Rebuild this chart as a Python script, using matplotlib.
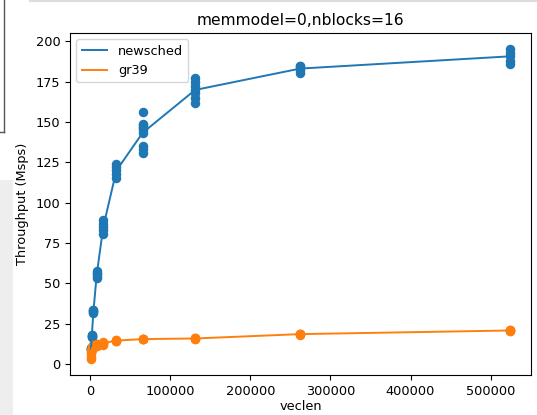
import matplotlib
matplotlib.use("Agg")
import matplotlib.pyplot as plt
from matplotlib.patches import Rectangle
from matplotlib.lines import Line2D
import numpy as np

# veclen values and repeated throughput measurements (Msps)
veclen = [1024, 2048, 4096, 8192, 16384, 32768, 65536, 131072, 262144, 524288]

newsched_trials = [
    [8.5, 9.0, 9.3, 9.6, 10.0],
    [16.5, 17.0, 17.5, 18.0, 18.2],
    [31.8, 32.3, 32.8, 33.2, 33.5],
    [53.0, 54.5, 55.5, 56.5, 57.5],
    [80.5, 83.0, 85.0, 87.0, 89.5],
    [115.5, 118.0, 120.0, 122.0, 124.0],
    [131, 133, 135, 143, 145, 146, 147, 148, 149, 156],
    [162, 165, 168, 170, 172, 175, 177],
    [180.5, 182, 183.5, 184.5, 185],
    [186, 188, 191, 193, 195.5],
]

gr39_trials = [
    [2.8, 4.5, 6.0, 7.5, 8.8],
    [8.5, 9.2, 9.8, 10.2, 10.5],
    [10.0, 10.5, 11.0, 11.3, 11.6],
    [11.0, 11.5, 12.0, 12.3, 12.6],
    [12.0, 12.5, 13.0, 13.3, 13.6],
    [14.2, 14.4, 14.5, 14.6, 14.8],
    [15.2, 15.3, 15.4, 15.5, 15.6],
    [15.6, 15.7, 15.8, 15.9, 16.0],
    [18.2, 18.4, 18.5, 18.6, 18.8],
    [20.5, 20.6, 20.8, 20.9, 21.0],
]

series = [("newsched", newsched_trials, "C0"), ("gr39", gr39_trials, "C1")]

# the screenshot is a bit smaller than a default figure, scale text down
plt.rcParams["font.size"] = 9.3

fig = plt.figure(figsize=(5.37, 4.15), dpi=100)
ax = fig.add_axes([0.1304, 0.0964, 0.8585, 0.824])

for name, trials, color in series:
    means = [np.mean(t) for t in trials]
    ax.plot(veclen, means, color=color, label=name, lw=1.4)
    for x, t in zip(veclen, trials):
        ax.scatter([x] * len(t), t, color=color, s=34)

ax.set_title("memmodel=0,nblocks=16", fontsize=11.2)
ax.set_xlabel("veclen", labelpad=2)
ax.set_ylabel("Throughput (Msps)", labelpad=5)
ax.legend(loc="upper left")

# screenshot leftovers around the figure
fig.add_artist(Rectangle((0, 0), 13 / 537, 235 / 415, transform=fig.transFigure,
                         facecolor="#eeeeee", edgecolor="none", zorder=-1))
fig.add_artist(Line2D([4 / 537, 4 / 537], [1, 283 / 415], transform=fig.transFigure,
                      color="#555555", lw=1))
fig.add_artist(Line2D([0, 4 / 537], [283 / 415, 283 / 415], transform=fig.transFigure,
                      color="#555555", lw=1))
fig.add_artist(Line2D([30 / 537, 1], [0.998, 0.998], transform=fig.transFigure,
                      color="#dddddd", lw=1.5))

fig.savefig("out.png", dpi=100)
